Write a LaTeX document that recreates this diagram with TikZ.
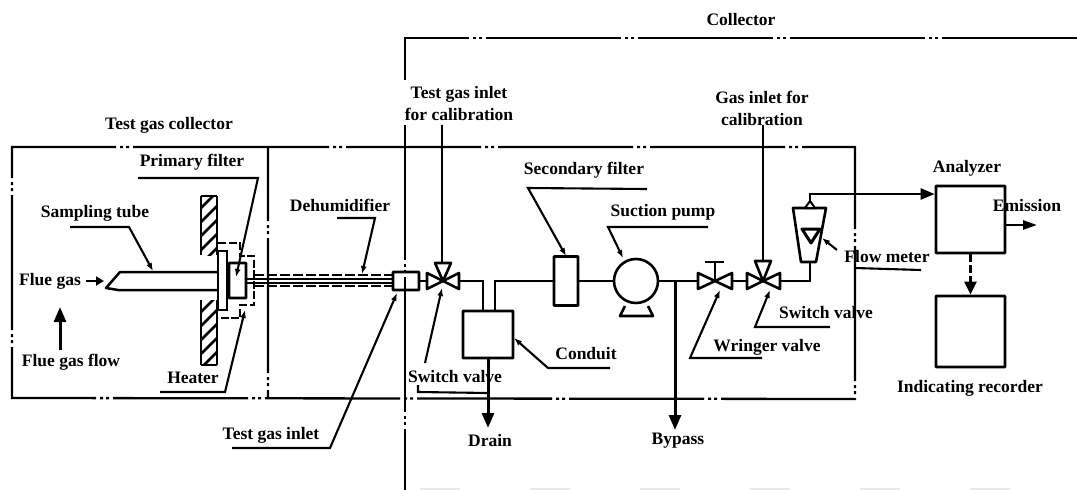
\documentclass[tikz,border=0pt]{standalone}
\usepackage{fontspec}
\setmainfont{Liberation Serif}
\usetikzlibrary{arrows.meta,patterns}
\tikzset{
  pipe/.style={line width=2.5pt},
  box/.style={line width=2.7pt,draw,rounded corners=0.5pt},
  frameline/.style={line width=2.3pt,dash pattern=on 135pt off 4pt on 3pt off 3pt on 3pt off 4pt},
  leader/.style={line width=2.1pt},
  arr/.style={-{Latex[length=8pt,width=6pt]}},
  flowarr/.style={line width=3pt,-{Triangle[length=15pt,width=12pt]}},
  lbl/.style={font=\bfseries\fontsize{17.5}{22}\selectfont,inner sep=0pt,anchor=center,align=center},
  valvetri/.style={line width=2.6pt,draw,fill=white,line join=round},
  heat/.style={line width=2.2pt,dash pattern=on 8pt off 2.5pt},
}
\begin{document}
\begin{tikzpicture}[x=1pt,y=-1pt]
\useasboundingbox (0,0) rectangle (1077,490);
% frames
\draw[frameline] (268,147) -- (12,147) -- (12,398) -- (855,399) -- (855,147) -- (268,147) -- (268,398);
\draw[frameline] (1077,38) -- (405,38) -- (405,80);
\draw[frameline] (405,125) -- (405,490);
\draw[line width=1.5pt,gray!18,dash pattern=on 40pt off 70pt] (420,489) -- (1077,489);
% wall
\begin{scope}
\clip (201,196) rectangle (217,255);
\foreach \k in {0,...,6} \draw[line width=2.8pt] (199,{210+\k*14}) -- (219,{190+\k*14});
\end{scope}
\begin{scope}
\clip (201,300) rectangle (217,365);
\foreach \k in {0,...,6} \draw[line width=2.8pt] (199,{314+\k*14}) -- (219,{294+\k*14});
\end{scope}
\draw[line width=2.6pt] (201,196) -- (201,255) (217,196) -- (217,255) (201,300) -- (201,365) (217,300) -- (217,365);
\draw[line width=2pt] (201,196) -- (217,196) (201,365) -- (217,365);
% sampling tube
\draw[pipe,line join=round] (218,272) -- (120,272) -- (106,288) -- (118,290) -- (218,290);
\draw[pipe,fill=white] (218,251) rectangle (227,310);
\node[box,minimum width=17pt,minimum height=35pt,inner sep=0pt] (pf) at (237.5,280.5) {};
% heater
\draw[heat] (218,243) -- (240,243) -- (240,256) -- (254,256) -- (254,305) -- (240,305) -- (240,318) -- (218,318);
% small connector box
\node[box,minimum width=26pt,minimum height=18pt,inner sep=0pt] (cb) at (406,281) {};
% sample line
\draw[line width=1.5pt] (pf.east |- 0,279) -- (cb.west |- 0,279) (pf.east |- 0,283) -- (cb.west |- 0,283);
\draw[line width=2pt,dash pattern=on 10pt off 3pt] (254,275) -- (cb.west |- 0,275) (254,286) -- (cb.west |- 0,286);
% valve 1
\coordinate (v1) at (443,281);
\draw[valvetri] (v1) -- (427,273) -- (427,289) -- cycle;
\draw[valvetri] (v1) -- (459,273) -- (459,289) -- cycle;
\draw[valvetri] (v1) -- (435,263) -- (451,263) -- cycle;
\draw[pipe] (cb) -- (427,281);
% conduit
\node[box,minimum width=50pt,minimum height=47pt,inner sep=0pt] (cd) at (488,334.5) {};
\draw[pipe] (459,281) -- (483,281) -- (483,311);
% secondary filter
\node[box,minimum width=24pt,minimum height=49pt,inner sep=0pt] (sf) at (566,281) {};
\draw[pipe] (495,311) -- (495,281) -- (sf.west);
% pump
\node[circle,line width=2.6pt,draw,minimum size=44pt,inner sep=0pt] (pm) at (636,281) {};
\draw[line width=2.6pt,line join=round] (625,306) -- (620,316) -- (653,316) -- (648,306);
\draw[pipe] (sf.east) -- (pm.west);
% valve 2
\coordinate (v2) at (715,281);
\draw[valvetri] (v2) -- (698,273) -- (698,289) -- cycle;
\draw[valvetri] (v2) -- (732,273) -- (732,289) -- cycle;
\draw[line width=2.6pt] (v2) -- (715,263);
\draw[line width=2.6pt] (705,262) -- (724,262);
\draw[pipe] (pm.east) -- (698,281);
% valve 3
\coordinate (v3) at (763,281);
\draw[valvetri] (v3) -- (747,273) -- (747,289) -- cycle;
\draw[valvetri] (v3) -- (780,273) -- (780,289) -- cycle;
\draw[valvetri] (v3) -- (755,261) -- (771,261) -- cycle;
\draw[pipe] (732,281) -- (747,281);
% flow meter
\draw[line width=2.6pt,line join=round] (793,208) -- (826,208) -- (816,262) -- (801,262) -- cycle;
\draw[line width=3pt,line join=round] (802,229) -- (820,229) -- (811,243) -- cycle;
\draw[line width=2pt,fill=white] (810,201) -- (805,208) -- (815,208) -- cycle;
\draw[pipe] (780,281) -- (810,281) -- (810,262);
% analyzer, recorder
\node[box,minimum width=69pt,minimum height=67pt,inner sep=0pt] (an) at (970.5,219.5) {};
\node[box,minimum width=69pt,minimum height=71pt,inner sep=0pt] (rc) at (970.5,331.5) {};
\draw[pipe,-{Triangle[length=14pt,width=11pt]}] (810,201) -- (810,194) -- (an.west |- 0,194);
\draw[pipe,-{Triangle[length=14pt,width=9pt]}] (an.east |- 0,225) -- (1037,225);
\draw[pipe,dash pattern=on 8pt off 3pt,-{Triangle[length=13pt,width=12pt]}] (an.south) -- (rc.north);
% flows
\draw[flowarr] (60,350) -- (60,307);
\draw[pipe,-{Triangle[length=8pt,width=9pt]}] (86,281) -- (104,281);
\draw[line width=2.8pt] (442,125) -- (442,263);
\draw[line width=2.8pt] (763,125) -- (763,261);
\draw[flowarr] (cd.south) -- (488,428);
\draw[flowarr] (675,281) -- (675,430);
% leaders
\draw[leader,arr] (138,178) -- (258,178) -- (236,277);
\draw[leader,arr] (70,227) -- (129,227) -- (153,271);
\draw[leader,arr] (337,218) -- (375,218) -- (362,274);
\draw[leader,arr] (160,392) -- (225,392) -- (245,310);
\draw[leader,arr] (232,448) -- (330,448) -- (397,293);
\draw[leader,arr] (647,189) -- (528,188) -- (566,256);
\draw[leader,arr] (708,227) -- (608,227) -- (623,258);
\draw[leader,arr] (610,368) -- (548,368) -- (514,338);
\draw[leader,arr] (425,363) -- (442,288);
\draw[leader] (418,385) -- (418,392) -- (488,393);
\draw[leader,arr] (762,358) -- (690,358) -- (720,290);
\draw[leader,arr] (830,327) -- (755,327) -- (770,290);
\draw[leader,arr] (837,250) -- (822,238);
\draw[leader] (855,268) -- (921,270);
% labels
\node[lbl] (t1) at (169,125) {Test gas collector};
\node[lbl] (t2) at (741,20) {Collector};
\node[lbl] (t3) at (192,162) {Primary filter};
\node[lbl] (t4) at (95,213) {Sampling tube};
\node[lbl] (t5) at (340,205) {Dehumidifier};
\node[lbl] (t6) at (50,281) {Flue gas};
\node[lbl] (t7) at (71,362) {Flue gas flow};
\node[lbl] (t8) at (193,378) {Heater};
\node[lbl] (t9) at (271,435) {Test gas inlet};
\node[lbl] (t10) at (459,104) {Test gas inlet\\for calibration};
\node[lbl] (t11) at (762,108) {Gas inlet for\\calibration};
\node[lbl] (t12) at (584,170) {Secondary filter};
\node[lbl] (t13) at (663,212) {Suction pump};
\node[lbl] (t14) at (586,354) {Conduit};
\node[lbl] (t15) at (455,377) {Switch valve};
\node[lbl] (t16) at (490,441) {Drain};
\node[lbl] (t17) at (678,441) {Bypass};
\node[lbl] (t18) at (767,347) {Wringer valve};
\node[lbl] (t19) at (826,313) {Switch valve};
\node[lbl] (t20) at (887,257) {Flow meter};
\node[lbl] (t21) at (967,168) {Analyzer};
\node[lbl] (t22) at (1027,206) {Emission};
\node[lbl] (t23) at (970,388) {Indicating recorder};
\end{tikzpicture}
\end{document}
